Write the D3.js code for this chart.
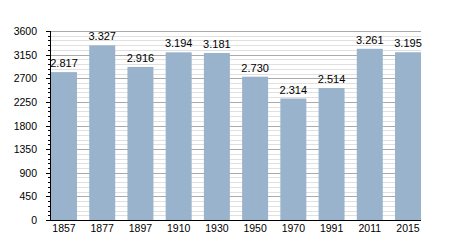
<!DOCTYPE html>
<html>
<head>
<meta charset="utf-8">
<script src="https://cdnjs.cloudflare.com/ajax/libs/d3/7.8.5/d3.min.js"></script>
<style>
  body { margin: 0; background: #fff; }
  text { font-family: "Liberation Sans", Arial, sans-serif; fill: #000; }
</style>
</head>
<body>
<div id="viz"></div>
<script>
var years = ["1857", "1877", "1897", "1910", "1930", "1950", "1970", "1991", "2011", "2015"];
var population = [2817, 3327, 2916, 3194, 3181, 2730, 2314, 2514, 3261, 3195];
var majorTicks = [0, 450, 900, 1350, 1800, 2250, 2700, 3150, 3600];

var width = 450, height = 250;
var plotLeft = 50, plotRight = 421, plotTop = 31, plotBottom = 220;

var svg = d3.select("#viz").append("svg").attr("width", width).attr("height", height);

var x = d3.scaleBand().domain(years).range([plotLeft + 1, plotRight]).paddingInner(0.32).paddingOuter(0);
var y = d3.scaleLinear().domain([0, 3600]).range([plotBottom, plotTop]);

var minorTicks = d3.range(0, 3601, 90).filter(function(d){ return d % 450 !== 0; });
var py = function(d){ return Math.round(y(d)) + 0.5; };

// grid
svg.append("g").selectAll("line").data(minorTicks).enter().append("line")
    .attr("x1", plotLeft).attr("x2", plotRight)
    .attr("y1", py).attr("y2", py)
    .style("stroke", "#e0e0e0");

svg.append("g").selectAll("line").data(majorTicks.filter(function(d){ return d > 0; })).enter().append("line")
    .attr("x1", plotLeft).attr("x2", plotRight)
    .attr("y1", py).attr("y2", py)
    .style("stroke", "#aaaaaa");

// bars
svg.append("g").selectAll("rect").data(population).enter().append("rect")
    .attr("x", function(d, i){ return x(years[i]); })
    .attr("y", function(d){ return y(d); })
    .attr("width", x.bandwidth())
    .attr("height", function(d){ return plotBottom - y(d); })
    .style("fill", "#99b3cc");

// value labels
var fmt = function(d){ return d3.format(",")(d).replace(",", "."); };
svg.append("g").selectAll("text").data(population).enter().append("text")
    .attr("x", function(d, i){ return x(years[i]) + x.bandwidth() / 2; })
    .attr("y", function(d){ return y(d) - 5; })
    .attr("text-anchor", "middle")
    .style("font-size", "11px")
    .text(fmt);

// y axis ticks
svg.append("g").selectAll("line").data(minorTicks).enter().append("line")
    .attr("x1", plotLeft - 2).attr("x2", plotLeft)
    .attr("y1", py).attr("y2", py)
    .style("stroke", "#000");
svg.append("g").selectAll("line").data(majorTicks).enter().append("line")
    .attr("x1", plotLeft - 4).attr("x2", plotLeft)
    .attr("y1", py).attr("y2", py)
    .style("stroke", "#000");

svg.append("g").selectAll("text").data(majorTicks).enter().append("text")
    .attr("x", 37)
    .attr("y", function(d){ return y(d) + 4; })
    .attr("text-anchor", "end")
    .style("font-size", "10.5px")
    .text(function(d){ return d; });

// axis lines
svg.append("line").attr("x1", plotLeft + 0.5).attr("x2", plotLeft + 0.5).attr("y1", plotTop).attr("y2", plotBottom + 1)
    .style("stroke", "#000");
svg.append("line").attr("x1", plotLeft).attr("x2", plotRight).attr("y1", plotBottom + 0.5).attr("y2", plotBottom + 0.5)
    .style("stroke", "#000");

// x labels
svg.append("g").selectAll("text").data(years).enter().append("text")
    .attr("x", function(d){ return x(d) + x.bandwidth() / 2; })
    .attr("y", 232)
    .attr("text-anchor", "middle")
    .style("font-size", "10.5px")
    .text(function(d){ return d; });
</script>
</body>
</html>
